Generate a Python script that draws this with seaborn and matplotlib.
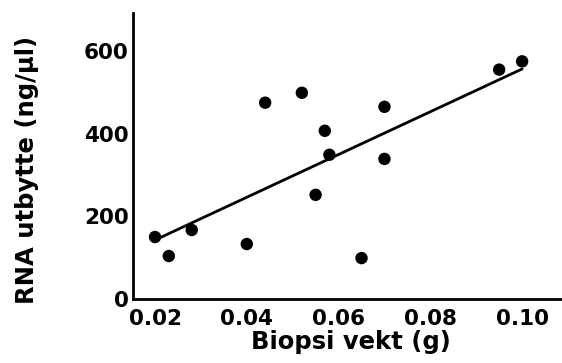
import matplotlib
matplotlib.use("Agg")

import matplotlib.pyplot as plt
import pandas as pd
import seaborn as sns

# Biopsy weight (g) vs RNA yield (ng/µl)
biopsi_vekt = [0.020, 0.023, 0.028, 0.040, 0.044, 0.052, 0.055,
               0.057, 0.058, 0.065, 0.070, 0.070, 0.095, 0.100]
rna_utbytte = [150, 104, 167, 133, 475, 499, 252,
               407, 349, 99, 465, 339, 555, 575]

x_ticks = [0.02, 0.04, 0.06, 0.08, 0.10]
x_ticklabels = ["0.02", "0.04", "0.06", "0.08", "0.10"]
y_ticks = [0, 200, 400, 600]

df = pd.DataFrame({"vekt": biopsi_vekt, "rna": rna_utbytte})

sns.set_theme(style="white")
plt.rcParams["font.family"] = ["DejaVu Sans"]
plt.rcParams["font.weight"] = "bold"
plt.rcParams["text.color"] = "black"
plt.rcParams["axes.labelcolor"] = "black"
plt.rcParams["xtick.color"] = "black"
plt.rcParams["ytick.color"] = "black"

fig = plt.figure(figsize=(5.62, 3.63), dpi=100)
ax = fig.add_axes([133 / 562, 64 / 363, 435 / 562, 286 / 363])

sns.regplot(
    data=df, x="vekt", y="rna", ci=None, ax=ax, truncate=True,
    scatter_kws=dict(s=80, color="black", edgecolor="none", alpha=1),
    line_kws=dict(color="black", linewidth=2),
)

ax.set_xlim(0.0152, 0.11)
ax.set_ylim(0, 692)
ax.set_xticks(x_ticks)
ax.set_xticklabels(x_ticklabels)
ax.set_yticks(y_ticks)
ax.tick_params(length=0, labelsize=15.5)
ax.tick_params(axis="x", pad=7)
ax.tick_params(axis="y", pad=3)
for lab in ax.get_xticklabels() + ax.get_yticklabels():
    lab.set_fontweight("bold")

ax.set_xlabel("Biopsi vekt (g)", fontsize=17.5, fontweight="bold", labelpad=1)
ax.set_ylabel("RNA utbytte (ng/µl)", fontsize=17.5, fontweight="bold")
ax.yaxis.set_label_coords(-0.215, 0.45)

sns.despine(ax=ax)
for side in ("left", "bottom"):
    ax.spines[side].set_color("black")
    ax.spines[side].set_linewidth(2)

fig.savefig("out.png", dpi=100)
